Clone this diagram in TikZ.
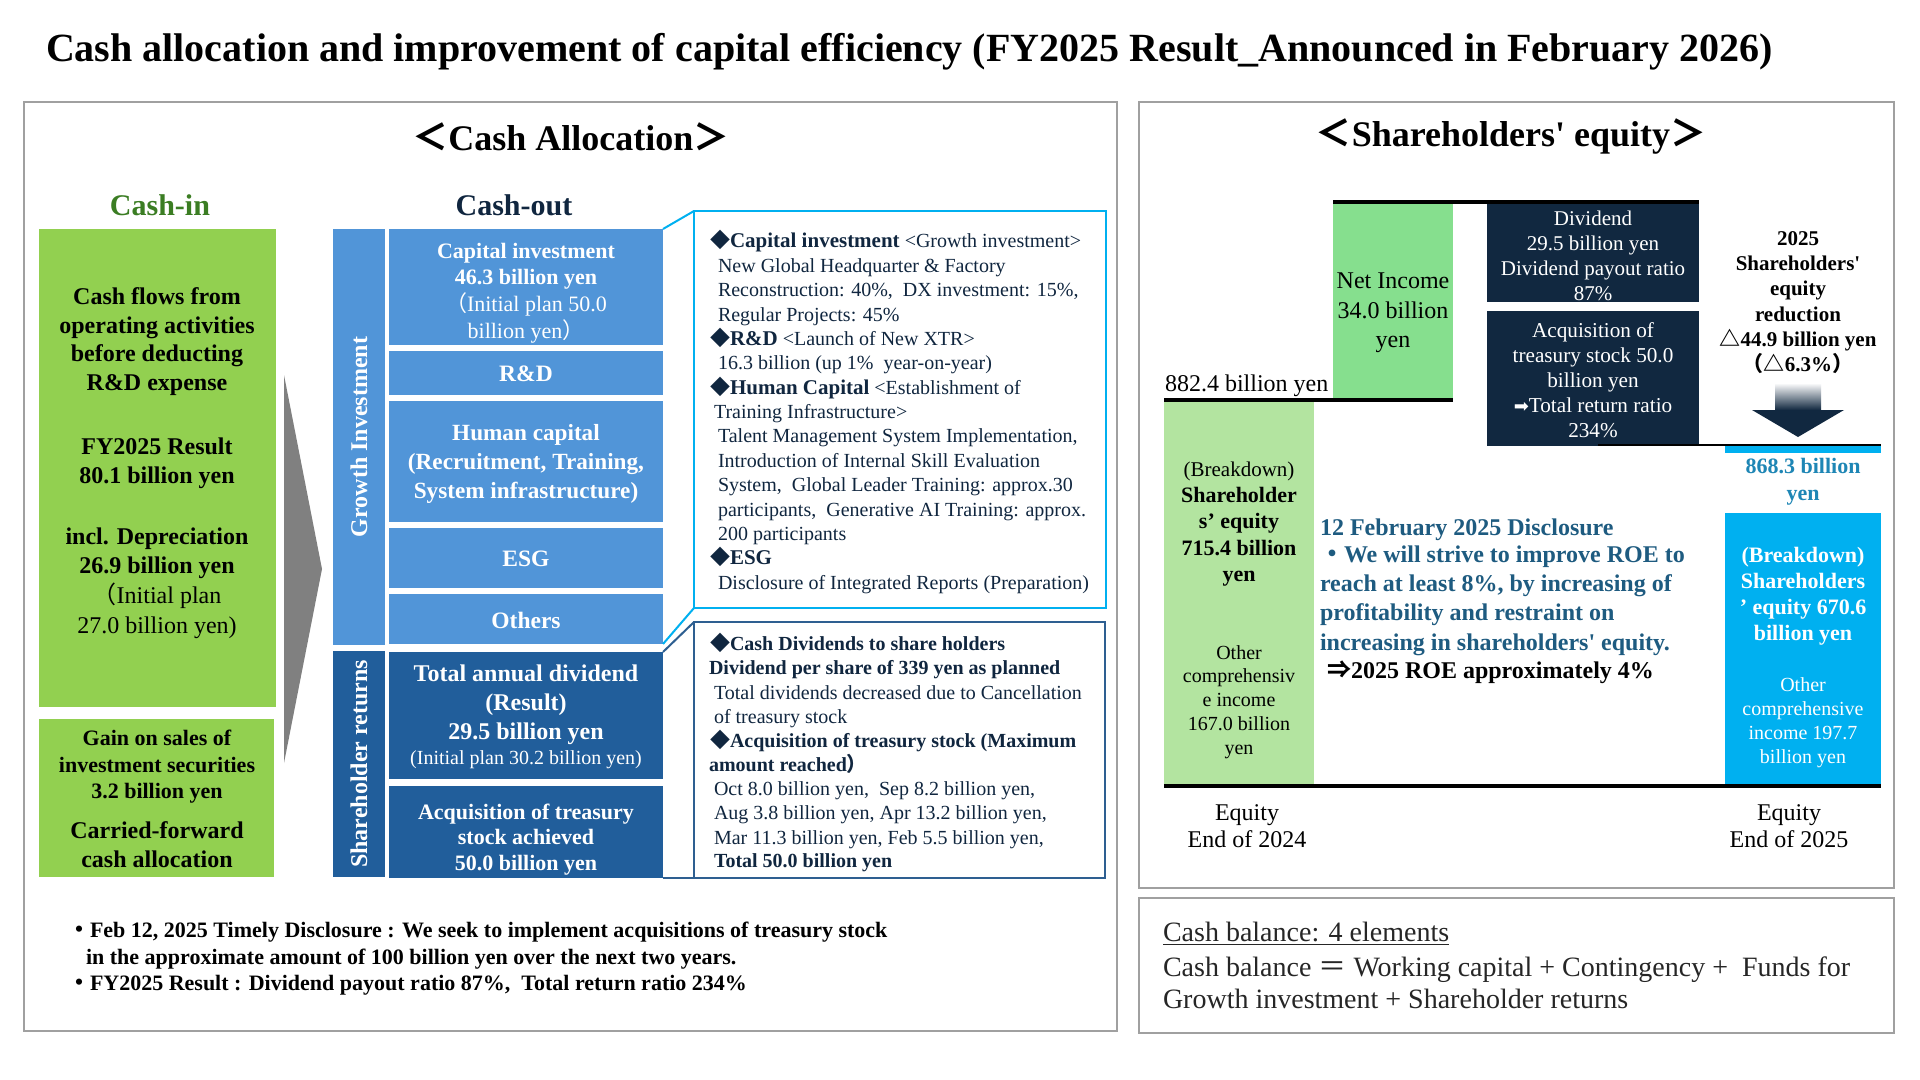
\documentclass[tikz,border=0pt]{standalone}
\usepackage{fontspec}
\setmainfont{Liberation Serif}
\newfontfamily\cjk{Noto Sans CJK JP}
\newfontfamily\djv{DejaVu Sans}
\newcommand\myfs[2]{\fontsize{#1}{#2}\selectfont}
\newcommand\zlp{{\cjk （}}
\newcommand\zrp{{\cjk ）}}
\newcommand\zlt{{\cjk ＜}}
\newcommand\zgt{{\cjk ＞}}
\newcommand\zeq{{\cjk ＝}}
\newcommand\zdot{{\cjk ・}}
\newcommand\ztri{{\cjk △}}
\newcommand\zdia{{\cjk ◆}}
\newcommand\zimp{{\cjk ⇒}}
\definecolor{cinG}{HTML}{92D050}
\definecolor{giB}{HTML}{5195D8}
\definecolor{srB}{HTML}{215E9B}
\definecolor{navyT}{HTML}{10263F}
\definecolor{cyanL}{HTML}{00B0F0}
\definecolor{co2B}{HTML}{2E5F91}
\definecolor{niG}{HTML}{86DF8E}
\definecolor{lcG}{HTML}{B3E4A0}
\definecolor{navyB}{HTML}{112840}
\definecolor{tealT}{HTML}{1E5B80}
\definecolor{blueT}{HTML}{1E86B5}
\definecolor{darkG}{HTML}{3B7D23}
\definecolor{panelG}{HTML}{A0A0A0}
\definecolor{grayA}{HTML}{808080}
\tikzset{
 lbl/.style={inner sep=0pt, outer sep=0pt},
 ln/.style={lbl, anchor=base west},
 bx/.style={inner sep=0pt, outer sep=0pt, anchor=north west},
 panel/.style={bx, draw=panelG, line width=1pt},
 wtxt/.style={lbl, text=white, align=center},
 btxt/.style={lbl, text=black, align=center},
 c1/.style={ln, text=navyT, font=\myfs{10}{12}},
 c1b/.style={ln, text=navyT, font=\bfseries\myfs{10.5}{12}},
}
\begin{document}
\begin{tikzpicture}[x=0.5pt,y=-0.5pt]
\path[use as bounding box, fill=white] (0,0) rectangle (1920,1080);

% panels
\node[panel, minimum width=546.5pt, minimum height=464.5pt] (lp) at (24,102) {};
\node[panel, minimum width=377.5pt, minimum height=393pt] (rp) at (1139,102) {};
\node[panel, minimum width=377.5pt, minimum height=67.5pt] (bp) at (1139,898) {};

% titles
\node[ln, font=\bfseries\myfs{20}{24}] (title) at (46,62) {Cash allocation and improvement of capital efficiency (FY2025 Result\_Announced in February 2026)};
\node[lbl, font=\bfseries\myfs{18}{22}] (hca) at (571,137) {\zlt Cash Allocation\zgt};
\node[lbl, font=\bfseries\myfs{18}{22}] (hse) at (1511,136) {\zlt Shareholders\textquotesingle\ equity\zgt};
\node[lbl, font=\bfseries\myfs{15}{18}, text=darkG] (cin) at (160,205) {Cash-in};
\node[lbl, font=\bfseries\myfs{15}{18}, text=navyT] (cout) at (514,205) {Cash-out};

% cash-in boxes
\node[bx, fill=cinG, minimum width=118.5pt, minimum height=239pt] (cin1) at (39,229) {};
\node[bx, fill=cinG, minimum width=117.5pt, minimum height=79pt] (cin2) at (39,719) {};
\node[btxt, font=\bfseries\myfs{12}{14.35}] (t1) at (157,341.5) {Cash flows from\\operating activities\\before deducting\\R\&D expense};
\node[btxt, font=\bfseries\myfs{12}{14.35}] (t2) at (157,463.5) {FY2025 Result\\80.1 billion yen};
\node[btxt, font=\bfseries\myfs{12}{14.8}] (t3) at (157,583) {incl. Depreciation\\26.9 billion yen\\{\mdseries\zlp Initial plan}\\{\mdseries 27.0 billion yen)}};
\node[btxt, font=\bfseries\myfs{11}{13.2}] (t4) at (157,767) {Gain on sales of\\investment securities\\3.2 billion yen};
\node[btxt, font=\bfseries\myfs{12}{14.5}] (t5) at (157,844.5) {Carried-forward\\cash allocation};

% gray arrow
\fill[grayA] (284,375) -- (322,569) -- (284,763) -- cycle;

% cash-out bars
\node[bx, fill=giB, minimum width=26pt, minimum height=208pt] (gi) at (333,229) {};
\node[bx, fill=srB, minimum width=26pt, minimum height=113pt] (sr) at (333,651) {};
\node[lbl, rotate=90, text=white, font=\bfseries\myfs{12}{14}] (gil) at (gi.center) {Growth Investment};
\node[lbl, rotate=90, text=white, font=\bfseries\myfs{12}{14}] (srl) at (sr.center) {Shareholder returns};

\node[bx, fill=giB, minimum width=137pt, minimum height=58pt] (cap) at (389,229) {};
\node[bx, fill=giB, minimum width=137pt, minimum height=22pt] (rd) at (389,351) {};
\node[bx, fill=giB, minimum width=137pt, minimum height=60.5pt] (hc) at (389,401) {};
\node[bx, fill=giB, minimum width=137pt, minimum height=30pt] (esg) at (389,528) {};
\node[bx, fill=giB, minimum width=137pt, minimum height=25pt] (oth) at (389,594) {};
\node[bx, fill=srB, minimum width=137pt, minimum height=63.5pt] (tad) at (389,652) {};
\node[bx, fill=srB, minimum width=137pt, minimum height=46pt] (acq) at (389,786) {};

\node[wtxt, font=\myfs{11}{13.3}] (capt) at (526,293) {{\bfseries Capital investment}\\{\bfseries 46.3 billion yen}\\\zlp Initial plan 50.0\\billion yen\zrp};
\node[wtxt, font=\bfseries\myfs{11.75}{14}] (rdt) at (526,374) {R\&D};
\node[wtxt, font=\bfseries\myfs{11.6}{14.5}] (hct) at (526,464) {Human capital\\(Recruitment, Training,\\System infrastructure)};
\node[wtxt, font=\bfseries\myfs{11.75}{14}] (esgt) at (526,559) {ESG};
\node[wtxt, font=\bfseries\myfs{11.75}{14}] (otht) at (526,620) {Others};
\node[wtxt, font=\bfseries\myfs{12}{14.5}] (tadt) at (526,705) {Total annual dividend\\(Result)\\29.5 billion yen};
\node[wtxt, font=\myfs{10}{12}] (tads) at (526,760) {(Initial plan 30.2 billion yen)};
\node[wtxt, font=\bfseries\myfs{11}{12.75}] (acqt) at (526,839.5) {Acquisition of treasury\\stock achieved\\50.0 billion yen};

% callout 1
\node[bx, draw=cyanL, line width=1pt, minimum width=206pt, minimum height=198.5pt] (co1) at (694,211) {};
\draw[cyanL, line width=1pt] (cap.north east) -- (co1.north west);
\draw[cyanL, line width=1pt] (oth.south east) -- (co1.south west);
\node[c1] (a1) at (710,248) {\zdia{\bfseries\myfs{10.5}{12}Capital investment} {\textless}Growth investment{\textgreater}};
\node[c1] (a2) at (718,272.4) {New Global Headquarter \& Factory};
\node[c1] (a3) at (718,296.7) {Reconstruction: 40\%,\ \ DX investment: 15\%,};
\node[c1] (a4) at (718,321.1) {Regular Projects: 45\%};
\node[c1] (a5) at (710,345.4) {\zdia{\bfseries\myfs{10.5}{12}R\&D} {\textless}Launch of New XTR{\textgreater}};
\node[c1] (a6) at (718,369.8) {16.3 billion (up 1\%\ \ year-on-year)};
\node[c1] (a7) at (710,394.2) {\zdia{\bfseries\myfs{10.5}{12}Human Capital} {\textless}Establishment of};
\node[c1] (a8) at (714,418.5) {Training Infrastructure{\textgreater}};
\node[c1] (a9) at (718,442.9) {Talent Management System Implementation,};
\node[c1] (a10) at (718,467.2) {Introduction of Internal Skill Evaluation};
\node[c1] (a11) at (718,491.6) {System,\ \ Global Leader Training: approx.30};
\node[c1] (a12) at (718,516) {participants,\ \ Generative AI Training: approx.};
\node[c1] (a13) at (718,540.3) {200 participants};
\node[c1] (a14) at (710,564.7) {\zdia{\bfseries\myfs{10.5}{12}ESG}};
\node[c1] (a15) at (718,589) {Disclosure of Integrated Reports (Preparation)};

% callout 2
\node[bx, draw=co2B, line width=1pt, minimum width=205.5pt, minimum height=128pt] (co2) at (694,622) {};
\draw[co2B, line width=1pt] (tad.north east) -- (co2.north west);
\draw[co2B, line width=1pt] (acq.south east) -- (co2.south west);
\node[c1, font=\bfseries\myfs{10}{12}] (b1) at (710,650) {\zdia Cash Dividends to share holders};
\node[c1, font=\bfseries\myfs{10}{12}] (b2) at (709,674) {Dividend per share of 339 yen as planned};
\node[c1] (b3) at (714,699) {Total dividends decreased due to Cancellation};
\node[c1] (b4) at (714,723) {of treasury stock};
\node[c1, font=\bfseries\myfs{10}{12}] (b5) at (710,747) {\zdia Acquisition of treasury stock (Maximum};
\node[c1, font=\bfseries\myfs{10}{12}] (b6) at (709,771) {amount reached\zrp};
\node[c1] (b7) at (714,795) {Oct 8.0 billion yen,\ \ Sep 8.2 billion yen,};
\node[c1] (b8) at (714,819) {Aug 3.8 billion yen, Apr 13.2 billion yen,};
\node[c1] (b9) at (714,844) {Mar 11.3 billion yen, Feb 5.5 billion yen,};
\node[c1, font=\bfseries\myfs{10}{12}] (b10) at (714,867) {Total 50.0 billion yen};

% notes
\node[ln, font=\bfseries\myfs{11}{13}] (n1) at (68,937) {\zdot Feb 12, 2025 Timely Disclosure : We seek to implement acquisitions of treasury stock};
\node[ln, font=\bfseries\myfs{11}{13}] (n2) at (86,964) {in the approximate amount of 100 billion yen over the next two years.};
\node[ln, font=\bfseries\myfs{11}{13}] (n3) at (68,990) {\zdot FY2025 Result : Dividend payout ratio 87\%,\ \ Total return ratio 234\%};

% shareholders' equity waterfall
\node[bx, fill=niG, minimum width=60pt, minimum height=98.5pt] (ni) at (1333,203) {};
\node[bx, fill=lcG, minimum width=75pt, minimum height=192.5pt] (lc) at (1164,401) {};
\node[bx, fill=navyB, minimum width=106pt, minimum height=49pt] (dv) at (1487,204) {};
\node[bx, fill=navyB, minimum width=106pt, minimum height=67.5pt] (aq) at (1487,311) {};
\node[bx, fill=cyanL, minimum width=78pt, minimum height=170pt] (cy) at (1725,446) {};
\node[bx, fill=white, minimum width=78pt, minimum height=30pt] (wh) at (1725,453) {};

\draw[line width=1.6pt] (1333,202) -- (1699,202);
\draw[line width=1.6pt] (1164,400) -- (1453,400);
\draw[line width=1.2pt] (1598,445) -- (1881,445);
\draw[line width=2pt] (1164,786) -- (1881,786);

\shade[top color=white, bottom color=navyB] (1775,383) rectangle (1821,410);
\fill[navyB] (1752,410) -- (1844,410) -- (1798,437) -- cycle;

\node[ln, font=\myfs{12}{14}] (v882) at (1165,391) {882.4 billion yen};
\node[btxt, font=\myfs{12}{14.75}] (nit) at (1393,313) {Net Income\\34.0 billion\\yen};
\node[btxt, font=\bfseries\myfs{11}{13.1}] (lct1) at (1239,524) {{\mdseries\myfs{10.5}{13.1}(Breakdown)}\\Shareholder\\s’ equity\\715.4 billion\\yen};
\node[btxt, font=\myfs{10}{11.9}] (lct2) at (1239,702) {Other\\comprehensiv\\e income\\167.0 billion\\yen};
\node[wtxt, font=\myfs{10.5}{12.5}] (dvt) at (1593,256) {Dividend\\29.5 billion yen\\Dividend payout ratio\\87\%};
\node[wtxt, font=\myfs{10.6}{12.5}] (aqt) at (1593,380) {Acquisition of\\treasury stock 50.0\\billion yen\\{\djv\myfs{9}{12.5}➡}Total return ratio\\234\%};
\node[btxt, font=\bfseries\myfs{10.5}{12.6}] (red) at (1798,302.5) {2025\\Shareholders\textquotesingle\\equity\\reduction\\\ztri 44.9 billion yen\\\zlp\ztri 6.3\%\zrp};
\node[lbl, align=center, text=blueT, font=\bfseries\myfs{11}{13.5}] (v868) at (1803,482) {868.3 billion\\yen};
\node[wtxt, font=\bfseries\myfs{11}{13}] (cyt1) at (1803,596) {(Breakdown)\\Shareholders\\’ equity 670.6\\billion yen};
\node[wtxt, font=\myfs{10}{12}] (cyt2) at (1803,723) {Other\\comprehensive\\income 197.7\\billion yen};

\node[ln, text=tealT, font=\bfseries\myfs{12}{14}] (d1) at (1320,535) {12 February 2025 Disclosure};
\node[ln, text=tealT, font=\bfseries\myfs{12}{14}] (d2) at (1320,562) {\zdot We will strive to improve ROE to};
\node[ln, text=tealT, font=\bfseries\myfs{12}{14}] (d3) at (1320,591) {reach at least 8\%, by increasing of};
\node[ln, text=tealT, font=\bfseries\myfs{12}{14}] (d4) at (1320,620) {profitability and restraint on};
\node[ln, text=tealT, font=\bfseries\myfs{12}{14}] (d5) at (1320,650) {increasing in shareholders\textquotesingle\ equity.};
\node[ln, text=black, font=\bfseries\myfs{12}{14}] (d6) at (1327,678) {\zimp 2025 ROE approximately 4\%};

\node[btxt, font=\myfs{12}{13.5}] (eq24) at (1247,826) {Equity\\End of 2024};
\node[btxt, font=\myfs{12}{13.5}] (eq25) at (1789,826) {Equity\\End of 2025};

% cash balance
\node[ln, text=black!85, font=\myfs{14}{16}] (cb1) at (1163,941) {\underline{Cash balance: 4 elements}};
\node[ln, text=black!85, font=\myfs{14}{16}] (cb2) at (1163,976) {Cash balance \zeq\ Working capital + Contingency +\ \ Funds for};
\node[ln, text=black!85, font=\myfs{14}{16}] (cb3) at (1163,1008) {Growth investment + Shareholder returns};
\end{tikzpicture}
\end{document}
